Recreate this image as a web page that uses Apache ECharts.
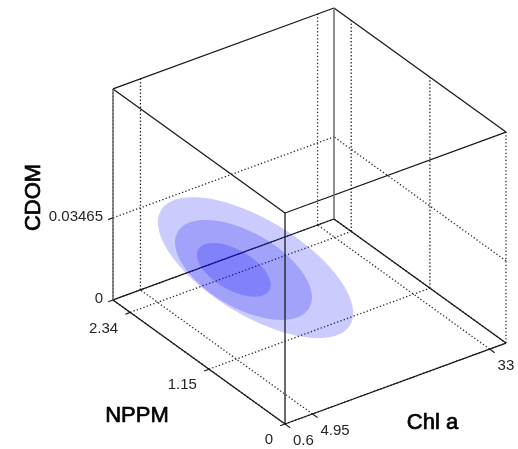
<!DOCTYPE html>
<html>
<head>
<meta charset="utf-8">
<script src="https://cdn.jsdelivr.net/npm/echarts/dist/echarts.min.js"></script>
<style>
  html, body { margin: 0; padding: 0; background: #ffffff; }
  #chart { width: 518px; height: 449px; }
</style>
</head>
<body>
<div id="chart"></div>
<script>
// Tick values and their labels on the three axes
const chlTicks = [0.6, 4.95, 33];
const nppmTicks = [0, 1.15, 2.34];
const cdomTicks = [0, 0.03465];
const chlTickLabels = ['0.6', '4.95', '33'];
const nppmTickLabels = ['0', '1.15', '2.34'];
const cdomTickLabels = ['0', '0.03465'];

// Axis limits
const chlLimits = [0.6, 35.6];
const nppmLimits = [0, 2.6];
const cdomLimits = [0, 0.089];

// Density shells, outer to inner: centre and semi-axes as [Chl a, NPPM, CDOM]
const shellCentres = [[8.3, 1.18, 0.0347], [6.7, 1.21, 0.0347], [5.7, 1.26, 0.0347]];
const shellRadii = [[7.5, 1.29, 0.0125], [5.86, 0.87, 0.0103], [3.15, 0.47, 0.0054]];

// Orthographic view of the unit box onto the plane of the hidden 2-D grid:
// o = front-bottom corner, ex/ey/ez = screen images of the three unit box edges.
const VIEW = {
  o: [0.4377, 0],
  ex: [0.5623, 0.1942],
  ey: [-0.4377, 0.2974],
  ez: [0, 0.506]
};
const LIMITS = [chlLimits, nppmLimits, cdomLimits];

function toUnit(p) {
  return p.map((v, i) => (v - LIMITS[i][0]) / (LIMITS[i][1] - LIMITS[i][0]));
}
function project(p) {
  const [X, Y, Z] = toUnit(p);
  return [
    VIEW.o[0] + X * VIEW.ex[0] + Y * VIEW.ey[0] + Z * VIEW.ez[0],
    VIEW.o[1] + X * VIEW.ex[1] + Y * VIEW.ey[1] + Z * VIEW.ez[1]
  ];
}

const [c0, c1] = chlLimits;
const [n0, n1] = nppmLimits;
const [d0, d1] = cdomLimits;

// Dotted grid on the floor and on the two back walls
const gridSegs = [];
chlTicks.forEach(c => {
  gridSegs.push([[c, n0, d0], [c, n1, d0]]);
  gridSegs.push([[c, n1, d0], [c, n1, d1]]);
});
nppmTicks.forEach(n => {
  gridSegs.push([[c0, n, d0], [c1, n, d0]]);
  gridSegs.push([[c1, n, d0], [c1, n, d1]]);
});
cdomTicks.forEach(d => {
  gridSegs.push([[c0, n1, d], [c1, n1, d]]);
  gridSegs.push([[c1, n0, d], [c1, n1, d]]);
});

// Box edges
const darkEdges = [
  [[c0, n1, d0], [c1, n1, d0]],
  [[c1, n1, d0], [c1, n0, d0]],
  [[c0, n1, d1], [c1, n1, d1]],
  [[c1, n1, d1], [c1, n0, d1]],
  [[c0, n1, d1], [c0, n0, d1]],
  [[c0, n0, d1], [c1, n0, d1]],
  [[c0, n0, d0], [c0, n1, d0]],
  [[c0, n0, d0], [c1, n0, d0]]
];
const greyEdges = [
  [[c0, n1, d0], [c0, n1, d1]],
  [[c1, n1, d0], [c1, n1, d1]]
];
const frontEdges = [
  [[c0, n0, d0], [c0, n0, d1]]
];

// Tick marks pointing out of the box
const tickSegs = [];
chlTicks.forEach(c => tickSegs.push([[c, n0, d0], [c, n0 - 0.03 * (n1 - n0), d0]]));
nppmTicks.forEach(n => tickSegs.push([[c0, n, d0], [c0 - 0.022 * (c1 - c0), n, d0]]));
cdomTicks.forEach(d => tickSegs.push([[c0, n1, d], [c0 - 0.022 * (c1 - c0), n1, d]]));

function segmentSeries(segs, style, z) {
  return {
    type: 'custom',
    coordinateSystem: 'cartesian2d',
    silent: true,
    clip: false,
    z: z,
    data: segs.map(() => [0, 0]),
    renderItem: function (params, api) {
      const s = segs[params.dataIndex];
      const a = api.coord(project(s[0]));
      const b = api.coord(project(s[1]));
      return {
        type: 'line',
        shape: { x1: a[0], y1: a[1], x2: b[0], y2: b[1] },
        style: Object.assign({ fill: null }, style)
      };
    }
  };
}

// Translucent shells: the outline of an axis-aligned ellipsoid seen in parallel projection
const shellSeries = {
  type: 'custom',
  coordinateSystem: 'cartesian2d',
  silent: true,
  clip: false,
  z: 3,
  data: shellCentres.map(() => [0, 0]),
  renderItem: function (params, api) {
    const i = params.dataIndex;
    const ctr = project(shellCentres[i]);
    const R = shellRadii[i];
    const p = R[0] / (c1 - c0), q = R[1] / (n1 - n0), r = R[2] / (d1 - d0);
    const ex = VIEW.ex, ey = VIEW.ey, ez = VIEW.ez;
    const m11 = p * p * ex[0] * ex[0] + q * q * ey[0] * ey[0] + r * r * ez[0] * ez[0];
    const m12 = p * p * ex[0] * ex[1] + q * q * ey[0] * ey[1] + r * r * ez[0] * ez[1];
    const m22 = p * p * ex[1] * ex[1] + q * q * ey[1] * ey[1] + r * r * ez[1] * ez[1];
    const l11 = Math.sqrt(m11);
    const l21 = m12 / l11;
    const l22 = Math.sqrt(Math.max(m22 - l21 * l21, 0));
    const pts = [];
    const N = 144;
    for (let k = 0; k < N; k++) {
      const t = 2 * Math.PI * k / N;
      const ct = Math.cos(t), st = Math.sin(t);
      pts.push(api.coord([ctr[0] + l11 * ct, ctr[1] + l21 * ct + l22 * st]));
    }
    return {
      type: 'polygon',
      shape: { points: pts },
      style: { fill: 'rgba(10, 10, 245, 0.21)', stroke: null }
    };
  }
};

// Text: tick labels and axis names, anchored to projected points
const tickFont = '15px "Liberation Sans", Arial, sans-serif';
const nameFont = '22px "Liberation Sans", Arial, sans-serif';
const texts = [];
chlTicks.forEach((c, i) => texts.push({ at: [c, n0, d0], dx: 8, dy: 17, text: chlTickLabels[i], align: 'left', font: tickFont, fill: '#262626', weight: 0 }));
nppmTicks.forEach((n, i) => texts.push({ at: [c0, n, d0], dx: -12, dy: 16, text: nppmTickLabels[i], align: 'right', font: tickFont, fill: '#262626', weight: 0 }));
cdomTicks.forEach((d, i) => texts.push({ at: [c0, n1, d], dx: -10, dy: -1, text: cdomTickLabels[i], align: 'right', font: tickFont, fill: '#262626', weight: 0 }));
texts.push({ at: [(c0 + c1) / 2, n0, d0], dx: 37, dy: 39, text: 'Chl a', align: 'center', font: nameFont, fill: '#000', weight: 0.7 });
texts.push({ at: [c0, (n0 + n1) / 2, d0], dx: -62, dy: 54, text: 'NPPM', align: 'center', font: nameFont, fill: '#000', weight: 0.7 });
texts.push({ at: [c0, n1, (d0 + d1) / 2], dx: -79, dy: 3, text: 'CDOM', align: 'center', font: nameFont, fill: '#000', weight: 0.7, rotate: true });

const textSeries = {
  type: 'custom',
  coordinateSystem: 'cartesian2d',
  silent: true,
  clip: false,
  z: 5,
  data: texts.map(() => [0, 0]),
  renderItem: function (params, api) {
    const t = texts[params.dataIndex];
    const a = api.coord(project(t.at));
    const style = {
      text: t.text,
      font: t.font,
      fill: t.fill,
      textAlign: t.align,
      textVerticalAlign: 'middle',
      align: t.align,
      verticalAlign: 'middle'
    };
    if (t.weight > 0) {
      style.stroke = t.fill;
      style.lineWidth = t.weight;
    }
    return {
      type: 'text',
      x: a[0] + t.dx,
      y: a[1] + t.dy,
      rotation: t.rotate ? Math.PI / 2 : 0,
      style: style
    };
  }
};

const chart = echarts.init(document.getElementById('chart'), null, { renderer: 'canvas' });
chart.setOption({
  animation: false,
  backgroundColor: '#ffffff',
  grid: { left: 113, top: 7, width: 393, height: 417 },
  xAxis: { type: 'value', min: 0, max: 1, show: false },
  yAxis: { type: 'value', min: 0, max: 1, show: false },
  series: [
    segmentSeries(gridSegs, { stroke: '#2a2a2a', lineWidth: 1.3, lineDash: [1.3, 2.2] }, 1),
    segmentSeries(darkEdges, { stroke: '#1a1a1a', lineWidth: 1.3 }, 2),
    segmentSeries(greyEdges, { stroke: '#6a6a6a', lineWidth: 1.5 }, 2),
    shellSeries,
    segmentSeries(frontEdges, { stroke: '#1a1a1a', lineWidth: 1.3 }, 4),
    segmentSeries(tickSegs, { stroke: '#1a1a1a', lineWidth: 1.1 }, 4),
    textSeries
  ]
});
</script>
</body>
</html>
